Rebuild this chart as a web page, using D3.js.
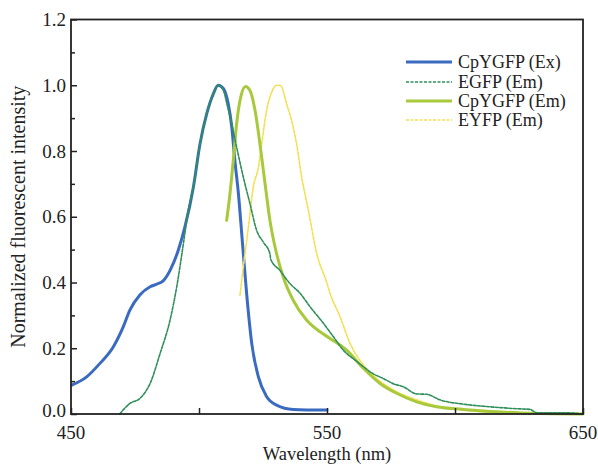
<!DOCTYPE html>
<html><head><meta charset="utf-8">
<script src="https://cdn.jsdelivr.net/npm/d3@7"></script>
<style>body{margin:0;background:#fff}svg{display:block}text{font-family:"Liberation Serif","Times New Roman",serif;fill:#222}</style>
</head><body><svg id="c" width="598" height="464"></svg>
<script>
const seriesNames = ["CpYGFP (Ex)", "EGFP (Em)", "CpYGFP (Em)", "EYFP (Em)"];
const seriesColors = ["#3a6bc0", "#2f8f5a", "#a8c93c", "#f2e054"];
const seriesDashed = [false, true, false, true];

const cpygfpExWl = [450.3,456.1,461.3,466.5,470.4,473,476.9,480.9,483.5,486,488.7,491.9,494.5,497.8,500.4,503,505.6,507.5,509.5,511.4,512.8,514,515.4,517,518.6,520.6,523.2,526.4,530.3,536.8,550];
const cpygfpExVal = [0.088,0.113,0.154,0.204,0.265,0.316,0.362,0.387,0.395,0.405,0.437,0.498,0.569,0.69,0.822,0.913,0.974,1.0,0.99,0.944,0.873,0.772,0.67,0.518,0.367,0.215,0.113,0.053,0.027,0.014,0.012];

const egfpEmWl = [469,473,477,480.9,484.8,488.7,491.3,493.9,495.8,497.8,500.4,503,505.6,507.5,509.5,511,512.8,514.7,517.3,519.9,522.5,525.1,527.7,528,531.6,535.5,539.5,543.4,548.6,552.5,556.4,561.6,564.2,568.1,572,575.9,579.8,585,588.9,594.1,603.2,613.7,624.1,629.3,631.9,642.3,650];
const egfpEmVal = [0.0,0.032,0.048,0.093,0.184,0.286,0.387,0.518,0.62,0.69,0.822,0.913,0.974,1.0,0.985,0.94,0.883,0.812,0.721,0.64,0.559,0.523,0.488,0.471,0.437,0.397,0.367,0.326,0.276,0.235,0.194,0.16,0.144,0.122,0.108,0.092,0.083,0.061,0.06,0.043,0.03,0.022,0.016,0.014,0.004,0.004,0.0];

const cpygfpEmWl = [510.8,512.1,513.4,514.7,516.3,518.2,519.9,521.9,523.8,525.8,527.7,530.3,532.9,536.8,542,547.3,551.2,557.7,564.2,570.7,577.2,585,592.8,603.2,616.3,629.3,650];
const cpygfpEmVal = [0.589,0.67,0.772,0.883,0.964,0.996,0.984,0.923,0.822,0.701,0.589,0.488,0.417,0.346,0.286,0.25,0.23,0.194,0.139,0.093,0.063,0.037,0.022,0.014,0.007,0.002,0.0];

const eyfpEmWl = [516,517.3,519.3,521.2,523.2,524.5,526.4,528.4,530.3,531.9,534.2,536.8,538.1,540.1,542.7,546,549.9,551.2,555.1,559,564.2,569.4,577.2,585,594.1,605.9,616,629,650];
const eyfpEmVal = [0.361,0.447,0.569,0.69,0.751,0.822,0.923,0.979,1.0,0.999,0.944,0.873,0.822,0.721,0.62,0.488,0.4,0.367,0.296,0.215,0.149,0.108,0.068,0.043,0.022,0.01,0.004,0.002,0.0];

const xTickValues = [450, 500, 550, 600, 650];
const xTickLabels = ["450", "", "550", "", "650"];
const yTickValues = [0, 0.2, 0.4, 0.6, 0.8, 1.0, 1.2];
const yTickLabels = ["0.0", "0.2", "0.4", "0.6", "0.8", "1.0", "1.2"];
const yMinorValues = [0.1, 0.3, 0.5, 0.7, 0.9, 1.1];

const seriesWl = [cpygfpExWl, egfpEmWl, cpygfpEmWl, eyfpEmWl];
const seriesVal = [cpygfpExVal, egfpEmVal, cpygfpEmVal, eyfpEmVal];

const svg = d3.select("#c");
const L = 71, R = 583, T = 19.5, B = 414;
const x = d3.scaleLinear().domain([450, 650]).range([L, R]);
const y = d3.scaleLinear().domain([0, 1.2]).range([B, T]);

const line = d3.line().x(d => x(d[0])).y(d => y(d[1])).curve(d3.curveMonotoneX);
[0, 3, 2, 1].forEach(i => {
  const pts = seriesWl[i].map((w, k) => [w, seriesVal[i][k]]);
  svg.append("path").datum(pts).attr("d", line)
    .attr("fill", "none").attr("stroke", seriesColors[i])
    .attr("stroke-width", seriesDashed[i] ? 1.6 : 3)
    .attr("stroke-dasharray", seriesDashed[i] ? "3,1.5" : null)
    .attr("stroke-linejoin", "round").attr("stroke-linecap", "round");
});

svg.append("rect").attr("x", L).attr("y", T).attr("width", R - L).attr("height", B - T)
  .attr("fill", "none").attr("stroke", "#222").attr("stroke-width", 1.8);

const yAxis = d3.axisRight(y).tickValues(yTickValues).tickSize(6).tickFormat("");
const gy = svg.append("g").attr("transform", `translate(${L},0)`).call(yAxis);
gy.select(".domain").remove();
gy.selectAll("line").attr("stroke", "#222").attr("stroke-width", 1.5);
const yMinor = d3.axisRight(y).tickValues(yMinorValues).tickSize(4).tickFormat("");
const gym = svg.append("g").attr("transform", `translate(${L},0)`).call(yMinor);
gym.select(".domain").remove();
gym.selectAll("line").attr("stroke", "#222").attr("stroke-width", 1.5);
yTickValues.forEach((v, i) => {
  svg.append("text").attr("x", 66).attr("y", y(v) - (v === 0 ? 4 : 0)).attr("dy", "0.35em")
    .attr("text-anchor", "end").attr("font-size", 19).text(yTickLabels[i]);
});

const xAxis = d3.axisTop(x).tickValues(xTickValues).tickSize(6).tickFormat("");
const gx = svg.append("g").attr("transform", `translate(0,${B})`).call(xAxis);
gx.select(".domain").remove();
gx.selectAll("line").attr("stroke", "#222").attr("stroke-width", 1.5);
xTickValues.forEach((v, i) => {
  if (xTickLabels[i]) svg.append("text").attr("x", x(v)).attr("y", 439)
    .attr("text-anchor", "middle").attr("font-size", 19).text(xTickLabels[i]);
});

svg.append("text").attr("x", x(550)).attr("y", 459.6).attr("text-anchor", "middle")
  .attr("font-size", 18.5).text("Wavelength (nm)");
svg.append("text").attr("transform", `translate(25,${(T + B) / 2}) rotate(-90)`)
  .attr("text-anchor", "middle").attr("font-size", 20).text("Normalized fluorescent intensity");

const legY = [62, 82, 101, 120];
seriesNames.forEach((n, i) => {
  svg.append("line").attr("x1", 406).attr("x2", 452).attr("y1", legY[i]).attr("y2", legY[i])
    .attr("stroke", seriesColors[i]).attr("stroke-width", seriesDashed[i] ? 1.6 : 3)
    .attr("stroke-dasharray", seriesDashed[i] ? "3,1.5" : null);
  svg.append("text").attr("x", 458).attr("y", legY[i]).attr("dy", "0.35em")
    .attr("font-size", 18).text(n);
});
</script></body></html>
